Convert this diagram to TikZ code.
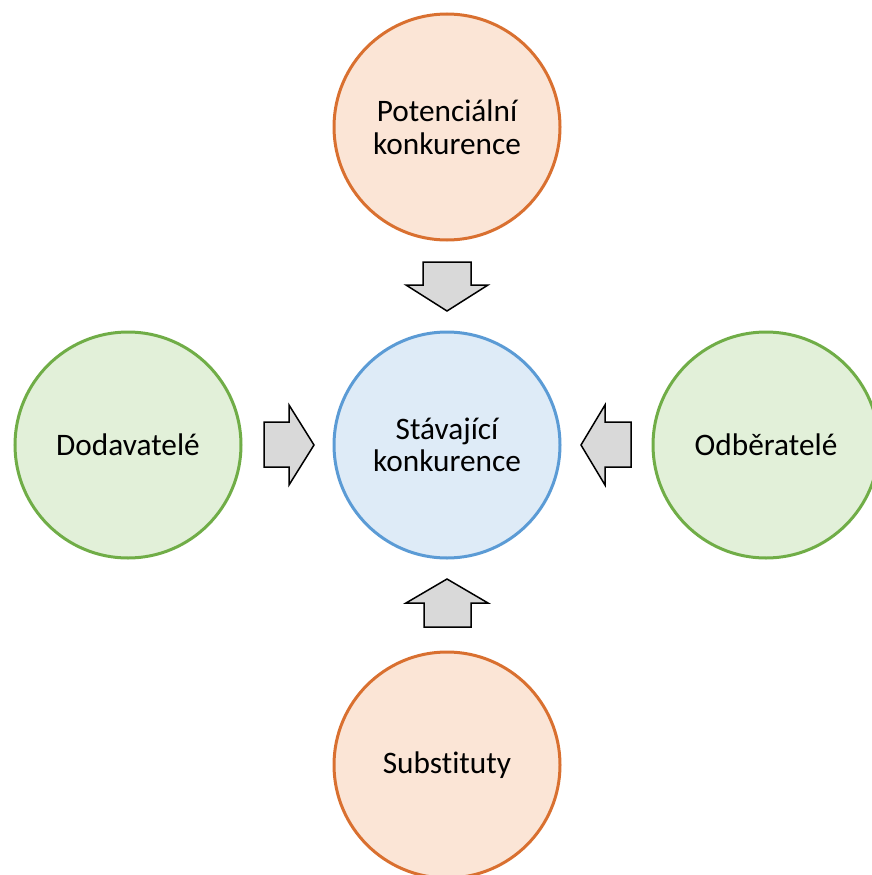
\documentclass[tikz,border=0pt]{standalone}
\usepackage{fontspec}
\setmainfont{Carlito}[RawFeature=-liga]
\definecolor{orangeline}{HTML}{D97030}
\definecolor{orangefill}{HTML}{FBE5D6}
\definecolor{greenline}{HTML}{70AD47}
\definecolor{greenfill}{HTML}{E2F0D9}
\definecolor{blueline}{HTML}{5B9BD5}
\definecolor{bluefill}{HTML}{DEEBF7}
\definecolor{arrowfill}{HTML}{D9D9D9}
\tikzset{
  force/.style={circle, minimum size=226pt, inner sep=0pt, line width=3pt,
    align=center, font=\fontsize{31.3}{32.5}\selectfont},
  threat/.style={force, draw=orangeline, fill=orangefill},
  partner/.style={force, draw=greenline, fill=greenfill},
  core/.style={force, draw=blueline, fill=bluefill},
  blockarrow/.style={draw=black, fill=arrowfill, line width=1.5pt, line join=miter}
}
\begin{document}
\begin{tikzpicture}[x=1pt,y=-1pt]
\useasboundingbox (0,0) rectangle (872,875);
\node[core]    (center) at (447,445) {Stávající\\konkurence};
\node[threat]  (top)    at (447,127) {Potenciální\\konkurence};
\node[threat]  (bottom) at (447,765) {Substituty};
\node[partner] (left)   at (128,445) {Dodavatelé};
\node[partner] (right)  at (766,445) {Odběratelé};
% block arrows pointing to the centre
\draw[blockarrow] (423,262) -- (471,262) -- (471,285) -- (488,285) -- (447,311)
  -- (406,285) -- (423,285) -- cycle;
\draw[blockarrow] (424,627) -- (471,627) -- (471,603) -- (488,603) -- (447,579)
  -- (406,603) -- (424,603) -- cycle;
\draw[blockarrow] (264,422) -- (289,422) -- (289,405) -- (314,445) -- (289,485)
  -- (289,467) -- (264,467) -- cycle;
\draw[blockarrow] (631,422) -- (605,422) -- (605,405) -- (581,445) -- (605,485)
  -- (605,467) -- (631,467) -- cycle;
\end{tikzpicture}
\end{document}
